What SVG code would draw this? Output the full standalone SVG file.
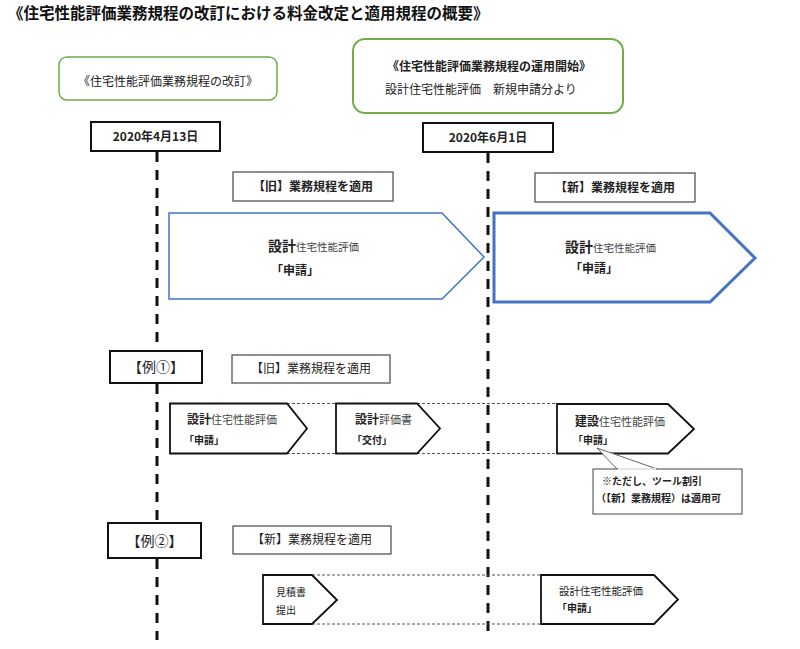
<svg xmlns="http://www.w3.org/2000/svg" width="800" height="649" viewBox="0 0 800 649">
<style>
text{font-family:"Noto Sans CJK JP","Liberation Sans",sans-serif;fill:#222}
.b{font-weight:bold}
.title{font-size:15.5px;font-weight:bold;fill:#111}
.gbox{fill:#fff;stroke:#70AD47}
.date{fill:#fff;stroke:#111;stroke-width:2}
.lbl{fill:#fff;stroke:#555;stroke-width:1.3}
.timeline{stroke:#111;stroke-width:3;stroke-dasharray:10 8;fill:none}
.thin{stroke:#555;stroke-width:1;stroke-dasharray:3 2;fill:none}
.step{fill:#fff;stroke:#111;stroke-width:1.8}
.big{fill:#fff;stroke:#4472C4}
.c{text-anchor:middle}
</style>
<rect width="800" height="649" fill="#fff"/>
<text x="8" y="19" class="title">《住宅性能評価業務規程の改訂における料金改定と適用規程の概要》</text>

<g id="connectors">
<line class="timeline" x1="157" y1="152" x2="157" y2="351"/>
<line class="timeline" x1="157" y1="384" x2="157" y2="523"/>
<line class="timeline" x1="157" y1="559" x2="157" y2="640"/>
<line class="timeline" x1="488" y1="153" x2="488" y2="632"/>
<line class="thin" x1="287" y1="403.5" x2="557" y2="403.5"/>
<line class="thin" x1="287" y1="453.5" x2="557" y2="453.5"/>
<line class="thin" x1="312" y1="575" x2="541" y2="575"/>
<line class="thin" x1="312" y1="624" x2="541" y2="624"/>
</g>

<g id="revision">
<rect class="gbox" x="59" y="57" width="218" height="43" rx="8" stroke-width="1.5"/>
<text x="168" y="86" class="c" font-size="12">《住宅性能評価業務規程の改訂》</text>
</g>

<g id="operation-start">
<rect class="gbox" x="353" y="39" width="270" height="74" rx="12" stroke-width="2"/>
<text x="489" y="71" class="c b" font-size="12">《住宅性能評価業務規程の運用開始》</text>
<text x="385" y="94" font-size="12">設計住宅性能評価　新規申請分より</text>
</g>

<g id="date1">
<rect class="date" x="91" y="122" width="129" height="29"/>
<text x="155.5" y="141" class="c b" font-size="12">2020年4月13日</text>
</g>

<g id="date2">
<rect class="date" x="423" y="123" width="130" height="29" stroke-width="2.5"/>
<text x="488" y="142" class="c b" font-size="12">2020年6月1日</text>
</g>

<g id="old-rule">
<rect class="lbl" x="233" y="172" width="160" height="29"/>
<text x="313" y="191" class="c b" font-size="12">【旧】業務規程を適用</text>
</g>

<g id="new-rule">
<rect class="lbl" x="535" y="173" width="160" height="29" stroke="#111" stroke-width="2"/>
<text x="615" y="192" class="c b" font-size="12">【新】業務規程を適用</text>
</g>

<g id="old-apply">
<polygon class="big" stroke-width="1.5" points="169,213 442,213 484,257 442,299 169,299"/>
<text x="268" y="251"><tspan class="b" font-size="14">設計</tspan><tspan font-size="10.5" fill="#444">住宅性能評価</tspan></text>
<text x="271" y="275" font-size="12" class="b">「申請」</text>
</g>

<g id="new-apply">
<polygon class="big" stroke-width="3" points="494,213 710,213 755,258 710,302 494,302"/>
<text x="565" y="252"><tspan class="b" font-size="14">設計</tspan><tspan font-size="10.5" fill="#444">住宅性能評価</tspan></text>
<text x="570" y="273" font-size="12" class="b">「申請」</text>
</g>

<g id="ex1">
<rect class="date" x="110" y="351" width="92" height="32"/>
<text x="156" y="372" class="c" font-size="14">【例①】</text>
</g>

<g id="ex1-rule">
<rect class="lbl" x="232" y="355" width="158" height="28"/>
<text x="311" y="373" class="c" font-size="12">【旧】業務規程を適用</text>
</g>

<g id="ex1-design-apply">
<polygon class="step" points="170,403.5 287,403.5 307,428.5 287,453.5 170,453.5"/>
<text x="187" y="424"><tspan class="b" font-size="12">設計</tspan><tspan font-size="11" fill="#444">住宅性能評価</tspan></text>
<text x="184" y="444" font-size="10" class="b">「申請」</text>
</g>

<g id="ex1-design-issue">
<polygon class="step" points="336,403.5 417,403.5 440,428.5 417,453.5 336,453.5"/>
<text x="355" y="424"><tspan class="b" font-size="12">設計</tspan><tspan font-size="11" fill="#444">評価書</tspan></text>
<text x="352" y="444" font-size="10" class="b">「交付」</text>
</g>

<g id="ex1-construct-apply">
<polygon class="step" points="557,404 668,404 694,429 668,453.5 557,453.5"/>
<text x="575" y="426"><tspan class="b" font-size="12">建設</tspan><tspan font-size="11" fill="#444">住宅性能評価</tspan></text>
<text x="573" y="444" font-size="10" class="b">「申請」</text>
</g>

<g id="note">
<path d="M617,469 L597,448 L657,469" fill="#fff" stroke="#666" stroke-width="1"/>
<rect x="593" y="469" width="149" height="45" fill="#fff" stroke="#444" stroke-width="1"/>
<line x1="618" y1="469" x2="656" y2="469" stroke="#fff" stroke-width="1.5"/>
<text x="602" y="485" font-size="10" class="b">※ただし、ツール割引</text>
<text x="596" y="502" font-size="10" class="b">（【新】業務規程）は適用可</text>
</g>

<g id="ex2">
<rect class="date" x="108" y="523" width="93" height="35"/>
<text x="154.5" y="546" class="c" font-size="14">【例②】</text>
</g>

<g id="ex2-rule">
<rect class="lbl" x="233" y="526" width="158" height="28"/>
<text x="312" y="544" class="c" font-size="12">【新】業務規程を適用</text>
</g>

<g id="ex2-estimate">
<polygon class="step" points="263,575 312,575 337,600 312,624 263,624"/>
<text x="276" y="596" font-size="10">見積書</text>
<text x="276" y="614" font-size="10">提出</text>
</g>

<g id="ex2-design-apply">
<polygon class="step" points="541,575 654,575 678,599.5 654,624 541,624"/>
<text x="559" y="595" font-size="10.5">設計住宅性能評価</text>
<text x="557" y="612" font-size="10" class="b">「申請」</text>
</g>
</svg>
